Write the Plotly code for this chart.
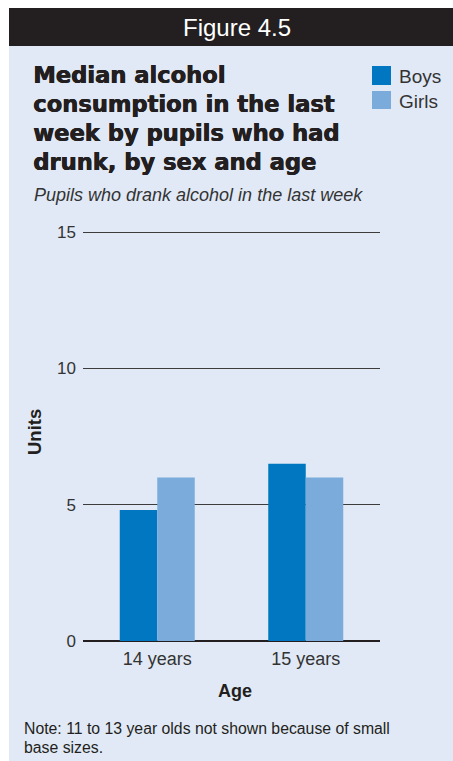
import plotly.graph_objects as go

categories = ["14 years", "15 years"]
boys = [4.8, 6.5]
girls = [6.0, 6.0]
y_ticks = [0, 5, 10, 15]

W, H = 453, 761
L, R, T, B = 83, 73, 230, 120
PW, PH = W - L - R, H - T - B

def px(x):
    return (x - L) / PW

def py(y):
    return (H - B - y) / PH

PANEL = "#e1e9f6"
BOYS_C = "#0077c0"
GIRLS_C = "#7aabdb"
TXT = "#333333"
FONT = "Liberation Sans, Arial, sans-serif"
YTOP = 15 * (PH / (PH - 2))

fig = go.Figure()
fig.add_trace(go.Bar(name="Boys", x=categories, y=boys, marker=dict(color=BOYS_C, line=dict(width=0))))
fig.add_trace(go.Bar(name="Girls", x=categories, y=girls, marker=dict(color=GIRLS_C, line=dict(width=0))))

shapes = [
    dict(type="rect", xref="paper", yref="paper", x0=px(0), x1=px(9), y0=py(H + 5), y1=py(-5),
         fillcolor="white", line=dict(width=0), layer="below"),
    dict(type="rect", xref="paper", yref="paper", x0=px(0), x1=px(W + 5), y0=py(8), y1=py(-5),
         fillcolor="white", line=dict(width=0), layer="below"),
    dict(type="rect", xref="paper", yref="paper", x0=px(9), x1=px(W + 5), y0=py(46), y1=py(8),
         fillcolor="#231f20", line=dict(width=0), layer="below"),
    dict(type="rect", xref="paper", yref="paper", x0=px(372), x1=px(391), y0=py(85), y1=py(66),
         fillcolor=BOYS_C, line=dict(width=0)),
    dict(type="rect", xref="paper", yref="paper", x0=px(372), x1=px(391), y0=py(109), y1=py(91),
         fillcolor=GIRLS_C, line=dict(width=0)),
]

TITLE_FONT = dict(family="DejaVu Sans, sans-serif", size=22.6, color="#231f20", weight="bold",
                  shadow="0.7px 0 0 #231f20, 0.35px 0.35px 0 #231f20")
title_lines = ["Median alcohol", "consumption in the last", "week by pupils who had", "drunk, by sex and age"]
title_y = [75, 104, 133, 162]

annotations = [
    dict(text="Figure 4.5", x=px(237), y=py(28), xref="paper", yref="paper", showarrow=False,
         xanchor="center", yanchor="middle", font=dict(family=FONT, size=24, color="white")),
    dict(text="<i>Pupils who drank alcohol in the last week</i>", x=px(32), y=py(195), xref="paper", yref="paper",
         showarrow=False, xanchor="left", yanchor="middle", font=dict(family=FONT, size=18, color=TXT)),
    dict(text="Boys", x=px(397), y=py(76), xref="paper", yref="paper", showarrow=False,
         xanchor="left", yanchor="middle", font=dict(family=FONT, size=19, color=TXT)),
    dict(text="Girls", x=px(397), y=py(101), xref="paper", yref="paper", showarrow=False,
         xanchor="left", yanchor="middle", font=dict(family=FONT, size=19, color=TXT)),
    dict(text="<b>Units</b>", x=px(34), y=py(432), xref="paper", yref="paper", showarrow=False, textangle=-90,
         xanchor="center", yanchor="middle", font=dict(family=FONT, size=18.5, color="#231f20")),
    dict(text="<b>Age</b>", x=px(235), y=py(691), xref="paper", yref="paper", showarrow=False,
         xanchor="center", yanchor="middle", font=dict(family=FONT, size=18, color="#231f20")),
    dict(text="Note: 11 to 13 year olds not shown because of small", x=px(22), y=py(728),
         xref="paper", yref="paper", showarrow=False, xanchor="left", yanchor="middle",
         font=dict(family=FONT, size=15.8, color="#231f20")),
    dict(text="base sizes.", x=px(22), y=py(747),
         xref="paper", yref="paper", showarrow=False, xanchor="left", yanchor="middle",
         font=dict(family=FONT, size=15.8, color="#231f20")),
]
for line, yy in zip(title_lines, title_y):
    annotations.append(dict(text=line, x=px(31), y=py(yy), xref="paper", yref="paper", showarrow=False,
                            xanchor="left", yanchor="middle", font=TITLE_FONT))

fig.update_layout(
    width=W, height=H,
    margin=dict(l=L, r=R, t=T, b=B, pad=0),
    paper_bgcolor=PANEL, plot_bgcolor="rgba(0,0,0,0)",
    barmode="group", bargap=0.495, bargroupgap=0,
    showlegend=False,
    shapes=shapes, annotations=annotations,
    xaxis=dict(showgrid=False, showline=False, ticks="", tickfont=dict(family=FONT, size=18, color=TXT),
               ticklabelstandoff=5),
    yaxis=dict(range=[0, YTOP], tickvals=y_ticks, showgrid=True, gridcolor="#3c3c3c", gridwidth=1.2,
               zeroline=True, zerolinecolor="#231f20", zerolinewidth=1.5, showline=False, ticks="",
               tickfont=dict(family=FONT, size=17, color=TXT), ticklabelstandoff=6),
    font=dict(family=FONT),
)

fig.write_html("out.html")
